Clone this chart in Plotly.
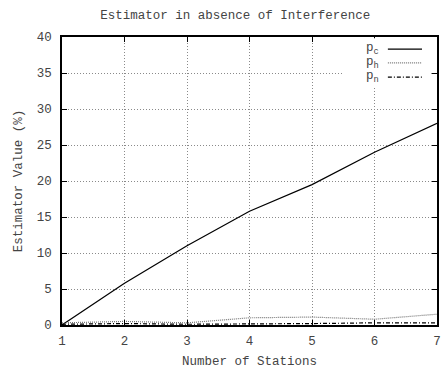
import plotly.graph_objects as go

stations = [1, 2, 3, 4, 5, 6, 7]
p_c = [0.0, 5.8, 11.0, 15.8, 19.5, 24.0, 28.0]
p_h = [0.3, 0.5, 0.3, 1.0, 1.1, 0.8, 1.5]
p_n = [0.1, 0.2, 0.1, 0.1, 0.2, 0.3, 0.3]

series = [
    ("p<sub>c</sub>", p_c, dict(color="black", width=1.2, dash="solid")),
    ("p<sub>h</sub>", p_h, dict(color="#777777", width=1.2, dash="1px,1px")),
    ("p<sub>n</sub>", p_n, dict(color="black", width=1.2, dash="4px,2px,1px,2px")),
]

FONT = "Liberation Mono, Courier New, monospace"
TXT = "#444444"
fig = go.Figure()
for name, vals, line in series:
    fig.add_trace(go.Scatter(x=stations, y=vals, mode="lines", name=name, line=line,
                             showlegend=False))

# custom gnuplot-like legend
fig.add_shape(type="rect", xref="paper", yref="paper", x0=0.749, x1=0.984, y0=0.83, y1=0.996,
              fillcolor="white", line=dict(width=0), layer="above")
rows = [0.958, 0.910, 0.861]
for (name, vals, line), yy in zip(series, rows):
    fig.add_annotation(x=0.85, y=yy, xref="paper", yref="paper", text=name, showarrow=False,
                       xanchor="right", yanchor="middle",
                       font=dict(family=FONT, size=12.5, color=TXT))
    fig.add_shape(type="line", xref="paper", yref="paper", x0=0.869, x1=0.96, y0=yy, y1=yy,
                  line=line, layer="above")

grid = dict(showgrid=True, gridcolor="#8a8a8a", griddash="1px,2px", gridwidth=1,
            showline=True, linecolor="black", linewidth=1.5, mirror="ticks",
            ticks="inside", ticklen=5, tickcolor="black", zeroline=False,
            automargin=False,
            tickfont=dict(family=FONT, size=12.5, color=TXT))

fig.update_layout(
    width=444, height=369,
    margin=dict(l=62, r=7, t=37, b=44),
    paper_bgcolor="white", plot_bgcolor="white",
    title=dict(text="Estimator in absence of Interference", x=0.53, xanchor="center",
               y=0.96, yanchor="middle",
               font=dict(family=FONT, size=12.5, color=TXT)),
    xaxis=dict(range=[1, 7], dtick=1, ticklabelstandoff=3,
               title=dict(text="Number of Stations", standoff=9,
                          font=dict(family=FONT, size=12.5, color=TXT)), **grid),
    yaxis=dict(range=[0, 40], dtick=5, ticklabelstandoff=6,
               title=dict(text="Estimator Value (%)", standoff=11,
                          font=dict(family=FONT, size=12.5, color=TXT)), **grid),
)

fig.write_html("out.html", config={"displayModeBar": False},
               post_script="document.body.style.margin='0';")
